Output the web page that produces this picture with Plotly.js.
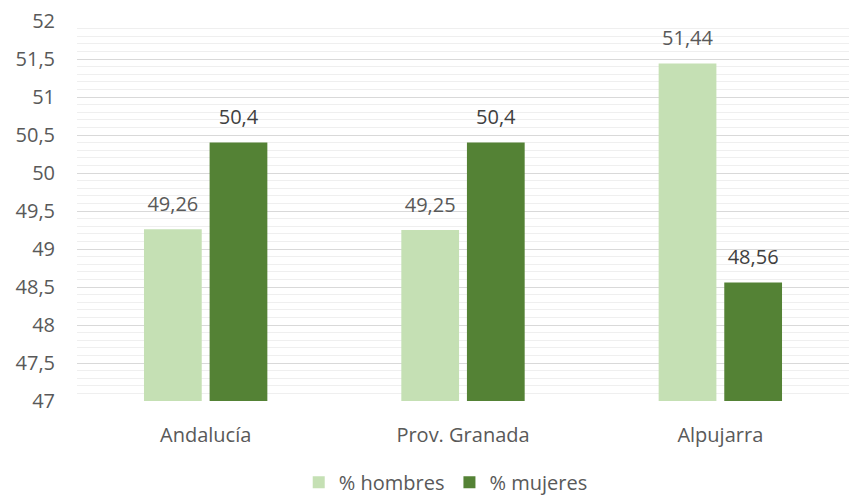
<!DOCTYPE html>
<html>
<head>
<meta charset="utf-8">
<script src="https://cdn.plot.ly/plotly-3.0.1.min.js"></script>
<style>html,body{margin:0;padding:0;background:#fff;}</style>
</head>
<body>
<div id="chart" style="width:849px;height:495px;"></div>
<script>
const categories = ["Andalucía", "Prov. Granada", "Alpujarra"];
const hombres = [49.26, 49.25, 51.44];
const mujeres = [50.4, 50.4, 48.56];
const hombresLabels = ["49,26", "49,25", "51,44"];
const mujeresLabels = ["50,4", "50,4", "48,56"];
const yTickVals = [47, 47.5, 48, 48.5, 49, 49.5, 50, 50.5, 51, 51.5, 52];
const yTickText = ["47", "47,5", "48", "48,5", "49", "49,5", "50", "50,5", "51", "51,5", "52"];

const FONT = "'Open Sans', sans-serif";
const BASE = 47;

function barTrace(name, vals, color) {
  return {
    type: "bar", name: name, x: categories,
    y: vals.map(v => v - BASE), base: BASE,
    marker: {color: color},
    hoverinfo: "skip", legendgroup: name
  };
}
function labelTrace(name, vals, labels, color) {
  return {
    type: "scatter", mode: "markers+text", x: categories, y: vals,
    text: labels, textposition: "top center", cliponaxis: false,
    marker: {size: 20, opacity: 0},
    textfont: {family: FONT, size: 20, color: color},
    showlegend: false, hoverinfo: "skip", legendgroup: name
  };
}

const traces = [
  barTrace("% hombres", hombres, "#c5e0b4"),
  barTrace("% mujeres", mujeres, "#548235"),
  labelTrace("% hombres", hombres, hombresLabels, "#595959"),
  labelTrace("% mujeres", mujeres, mujeresLabels, "#404040")
];

const layout = {
  width: 849, height: 495,
  margin: {l: 77, r: 0, t: 21, b: 94},
  paper_bgcolor: "#ffffff", plot_bgcolor: "#ffffff",
  font: {family: FONT, size: 20, color: "#595959"},
  barmode: "group", bargap: 0.49, bargroupgap: 0.12,
  scattermode: "group", scattergap: 0.49,
  showlegend: true,
  legend: {orientation: "h", x: 0.525, xref: "container", xanchor: "center",
           y: 0.026, yref: "container", yanchor: "middle",
           font: {family: FONT, size: 20, color: "#595959"},
           itemwidth: 30, tracegroupgap: 0},
  xaxis: {
    showgrid: false, zeroline: false, showline: false,
    ticks: "", ticklabelstandoff: 20,
    tickfont: {family: FONT, size: 20, color: "#595959"}
  },
  yaxis: {
    range: [47, 52], autorange: false,
    tickvals: yTickVals, ticktext: yTickText,
    showgrid: true, gridcolor: "#d9d9d9", gridwidth: 1,
    zeroline: false, showline: false, ticks: "", ticklabelstandoff: 21,
    tickfont: {family: FONT, size: 20, color: "#595959"},
    minor: {dtick: 0.1, showgrid: true, gridcolor: "#efefef", gridwidth: 1}
  }
};

Plotly.newPlot("chart", traces, layout, {displayModeBar: false, staticPlot: true});
</script>
</body>
</html>
